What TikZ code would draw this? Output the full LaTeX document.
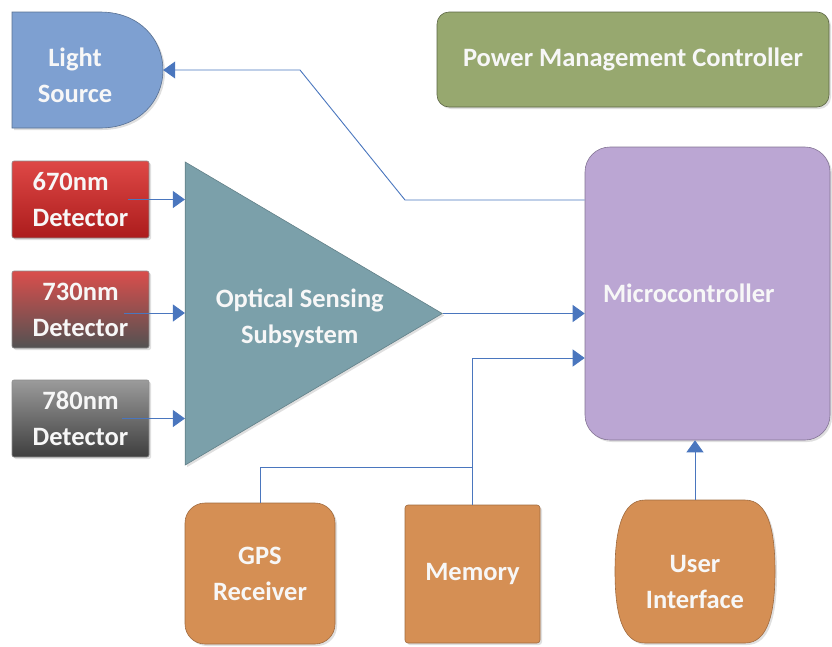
\documentclass[tikz,border=0pt]{standalone}
\usepackage{fontspec}
\setmainfont{Carlito}
\usetikzlibrary{arrows.meta, positioning, shapes.geometric, shadows}

\begin{document}
\begin{tikzpicture}[x=1pt, y=-1pt,
  softshadow/.style={drop shadow={opacity=0.25, shadow xshift=2pt, shadow yshift=-2pt}},
  caption/.style={text=white!94!gray, font=\fontsize{26.5}{36}\selectfont\bfseries, align=center},
  block/.style={caption, softshadow, line width=0.6pt},
  detector/.style={block, draw=black!45, rounded corners=2pt, minimum width=137pt, minimum height=77pt, inner sep=2pt},
  unit/.style={block, draw=unitorange!75!black, fill=unitorange, minimum width=#1},
  link/.style={draw=linkblue, line width=0.9pt},
  feed/.style={link, -{Triangle[length=12pt, width=17pt]}}]

  % Colors
  \definecolor{sourceblue}{RGB}{126,160,209}
  \definecolor{powergreen}{RGB}{151,168,111}
  \definecolor{sensteal}{RGB}{123,160,170}
  \definecolor{microlilac}{RGB}{187,166,211}
  \definecolor{unitorange}{RGB}{213,143,84}
  \definecolor{linkblue}{RGB}{74,118,190}

  % Frame
  \useasboundingbox (0,0) rectangle (832,646);

  % Light source (D shape)
  \filldraw[fill=sourceblue, draw=sourceblue!70!black, line width=0.6pt, softshadow]
    (12,12) -- (100,12) .. controls (140,12) and (163,40) .. (163,70)
    .. controls (163,100) and (140,128) .. (100,128) -- (12,128) -- cycle;
  \node[caption, minimum width=176pt, minimum height=116pt] (light) at (75,75) {Light\\Source};

  % Power management controller
  \node[block, draw=powergreen!60!black, fill=powergreen, rounded corners=12pt,
        minimum width=392pt, minimum height=95pt] (power) at (633,59.5) {Power Management Controller};

  % Detectors
  \node[detector, top color={rgb,255:red,222;green,72;blue,70}, bottom color={rgb,255:red,172;green,28;blue,28}, align=left]
    (det1) at (80.5,199.5) {670nm\\Detector};
  \node[detector, top color={rgb,255:red,218;green,78;blue,76}, middle color={rgb,255:red,160;green,90;blue,90}, bottom color={rgb,255:red,82;green,82;blue,82}]
    (det2) at (80.5,309.5) {730nm\\Detector};
  \node[detector, top color={rgb,255:red,155;green,155;blue,155}, bottom color={rgb,255:red,62;green,62;blue,62}]
    (det3) at (80.5,418.5) {780nm\\Detector};

  % Optical sensing subsystem
  \node[block, isosceles triangle, isosceles triangle stretches, shape border rotate=0,
        draw=sensteal!80!black, fill=sensteal, minimum width=303pt, minimum height=257pt,
        inner sep=0pt, anchor=apex,
        label={[caption, xshift=28pt, yshift=-5pt]center:{Optical Sensing\\Subsystem}}]
    (sens) at (443,313.5) {};

  % Microcontroller
  \node[block, draw=microlilac!70!black, fill=microlilac, rounded corners=25pt,
        minimum height=293pt, text width=209pt, inner xsep=18pt, align=left]
    (micro) at (707.5,293.5) {Microcontroller};

  % Bottom units
  \node[unit=150pt, rounded corners=20pt, minimum height=141pt] (gps) at (260,573.5) {GPS\\Receiver};
  \node[unit=135pt, rounded corners=3pt, minimum height=138pt] (mem) at (472.5,574) {Memory};
  \filldraw[fill=unitorange, draw=unitorange!75!black, line width=0.6pt, softshadow]
    (645,500) -- (745,500) .. controls (768,500) and (775,530) .. (775,571.5)
    .. controls (775,613) and (768,643) .. (745,643) -- (645,643)
    .. controls (622,643) and (615,613) .. (615,571.5)
    .. controls (615,530) and (622,500) .. (645,500) -- cycle;
  \node[caption, minimum width=160pt, minimum height=163pt] (ui) at (695,581.5) {User\\Interface};

  % Connectors
  \draw[feed] ([xshift=-21pt]det1.east) -- (det1.east -| sens.west);
  \draw[feed] ([xshift=-25pt]det2.east |- 0,313) -- (sens.west |- 0,313);
  \draw[feed] ([xshift=-27pt]det3.east) -- (det3.east -| sens.west);
  \draw[feed] (sens.apex) -- (sens.apex -| micro.west);
  \draw[feed] (mem.north) |- ([yshift=-44.5pt]sens.apex -| micro.west);
  \draw[link] (gps.north) |- ([yshift=37pt]mem.north);
  \draw[feed] (ui.north) -- (ui.north |- micro.south);

  % Control line to the light source
  \coordinate (bendlow) at (405,200);
  \coordinate (bendhigh) at (300,70);
  \draw[feed] (micro.west |- bendlow) -- (bendlow) -- (bendhigh) -- ([yshift=5pt]light.east);

\end{tikzpicture}
\end{document}
